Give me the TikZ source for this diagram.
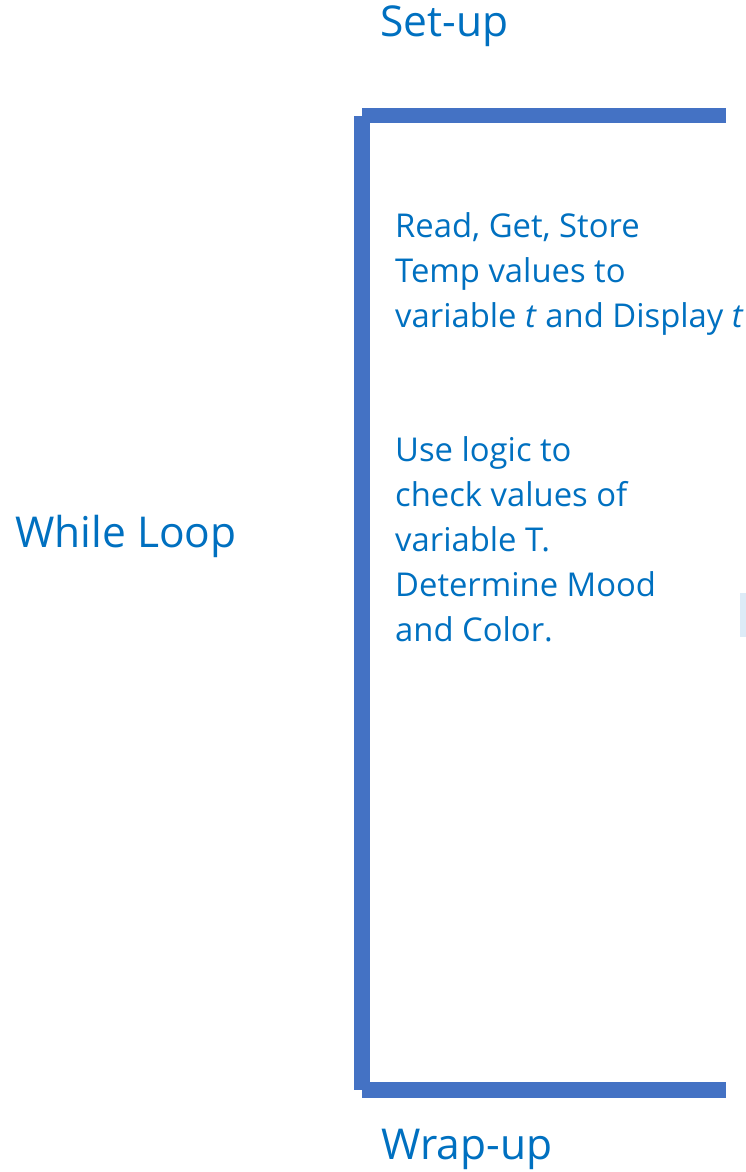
\documentclass[tikz,border=0pt]{standalone}
\usepackage{fontspec}
\setmainfont{Open Sans}
\definecolor{txtblue}{HTML}{0070C0}
\definecolor{barblue}{HTML}{4472C4}
\definecolor{paleblue}{HTML}{DDEBF7}
\tikzset{
  label/.style={txtblue,inner sep=0,anchor=base west,font=\fontsize{42.5}{50}\selectfont},
  body/.style={txtblue,inner sep=0,anchor=base west,align=left,font=\fontsize{32.8}{45}\selectfont},
  bar/.style={fill=barblue}
}
\begin{document}
\begin{tikzpicture}[x=1pt,y=-1pt]
  \useasboundingbox (0,0) rectangle (746,1172);

  % bracket
  \fill[bar] (354,116) rectangle (370,1090);
  \fill[bar] (362,108) rectangle (726,123);
  \fill[bar] (362,1082) rectangle (726,1098);
  \fill[paleblue] (740,593) rectangle (746,637);

  \node[label] (setup) at (380,37) {Set-up};
  \node[label] (loop) at (15,547) {While Loop};
  \node[label] (wrapup) at (381,1159) {Wrap-up};

  % base anchor sits on the last line
  \node[body] (readtxt) at (395,327) {Read, Get, Store\\Temp values to\\variable \textit{t} and Display \textit{t}};
  \node[body] (logictxt) at (395,641) {Use logic to\\check values of\\variable T.\\Determine Mood\\and Color.};
\end{tikzpicture}
\end{document}
